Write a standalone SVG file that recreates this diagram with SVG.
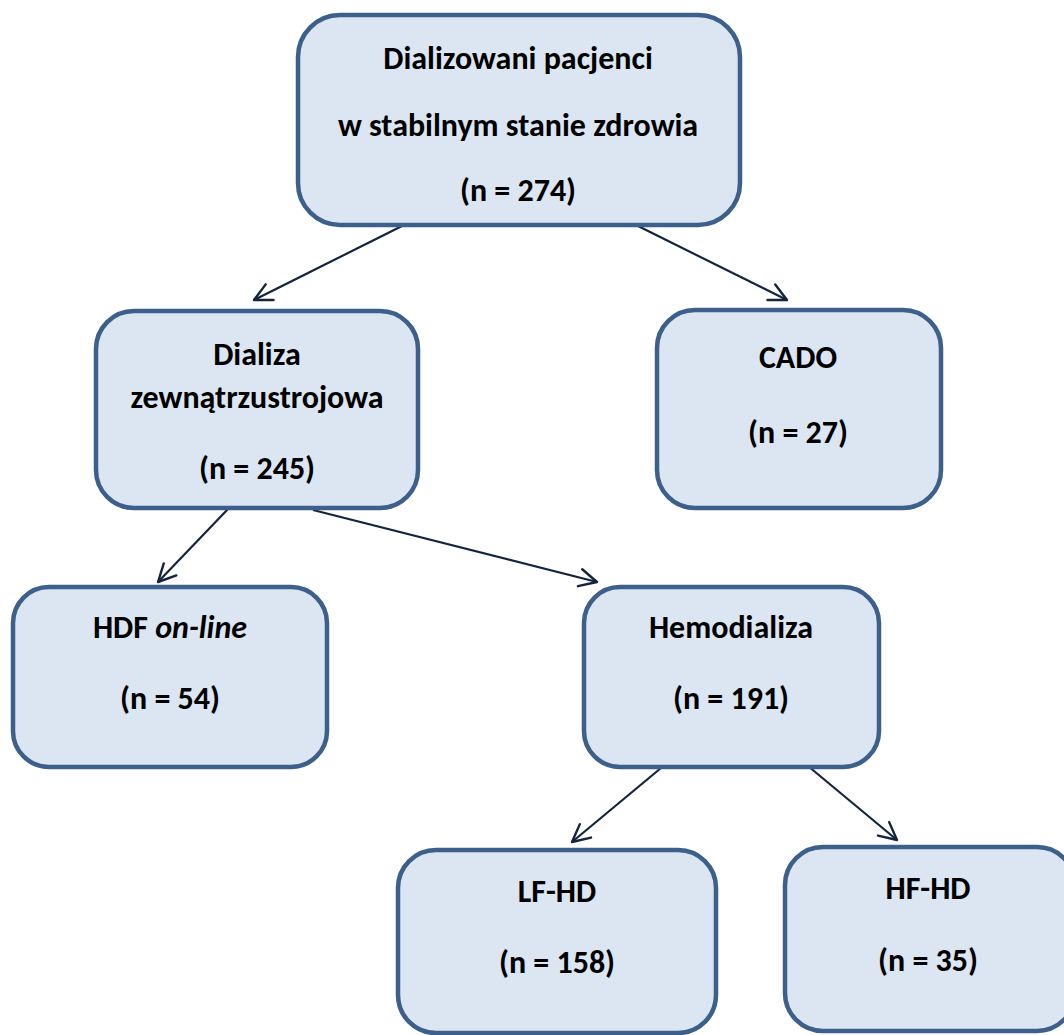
<svg xmlns="http://www.w3.org/2000/svg" width="1064" height="1035" viewBox="0 0 1064 1035">
<defs>
<style>
.box{fill:#dce6f2;stroke:#3d5f8b;stroke-width:4.5}
.t{font-family:Carlito,"Liberation Sans",Arial,sans-serif;font-weight:bold;font-size:32px;fill:#000;text-anchor:middle}
.c{stroke:#14243e;stroke-width:2.2;fill:none;marker-end:url(#arr)}
</style>
<marker id="arr" markerUnits="userSpaceOnUse" markerWidth="24" markerHeight="24" viewBox="-20 -10 22 20" refX="0" refY="0" orient="auto">
<path d="M-16,-8 L0,0 L-16,8" fill="none" stroke="#14243e" stroke-width="2.2" stroke-linecap="round" stroke-linejoin="round"/>
</marker>
</defs>
<rect width="1064" height="1035" fill="#fff"/>
<g id="connectors">
<line class="c" x1="402" y1="226" x2="254" y2="300"/>
<line class="c" x1="638" y1="226" x2="787" y2="300"/>
<line class="c" x1="228" y1="509" x2="158" y2="582"/>
<line class="c" x1="313" y1="510" x2="597" y2="582"/>
<line class="c" x1="661" y1="768" x2="572" y2="842"/>
<line class="c" x1="808" y1="766" x2="897" y2="840"/>
</g>
<g id="n1">
<rect class="box" x="298" y="15" width="442" height="210" rx="42"/>
<text class="t" x="518" y="69">Dializowani pacjenci</text>
<text class="t" x="518" y="136">w stabilnym stanie zdrowia</text>
<text class="t" x="518" y="201">(n = 274)</text>
</g>
<g id="n2">
<rect class="box" x="96" y="311" width="322" height="197" rx="38"/>
<text class="t" x="257" y="365">Dializa</text>
<text class="t" x="257" y="408">zewnątrzustrojowa</text>
<text class="t" x="257" y="479">(n = 245)</text>
</g>
<g id="n3">
<rect class="box" x="657" y="310" width="284" height="198" rx="38"/>
<text class="t" x="798" y="368">CADO</text>
<text class="t" x="798" y="443">(n = 27)</text>
</g>
<g id="n4">
<rect class="box" x="13" y="587" width="314" height="180" rx="36"/>
<text class="t" x="170" y="638">HDF <tspan font-style="italic">on-line</tspan></text>
<text class="t" x="170" y="709">(n = 54)</text>
</g>
<g id="n5">
<rect class="box" x="584" y="587" width="295" height="180" rx="36"/>
<text class="t" x="731" y="638">Hemodializa</text>
<text class="t" x="731" y="709">(n = 191)</text>
</g>
<g id="n6">
<rect class="box" x="398" y="850" width="318" height="183" rx="38"/>
<text class="t" x="557" y="902">LF-HD</text>
<text class="t" x="557" y="973">(n = 158)</text>
</g>
<g id="n7">
<rect class="box" x="785" y="847" width="290" height="184" rx="38"/>
<text class="t" x="928" y="899">HF-HD</text>
<text class="t" x="928" y="971">(n = 35)</text>
</g>
</svg>
